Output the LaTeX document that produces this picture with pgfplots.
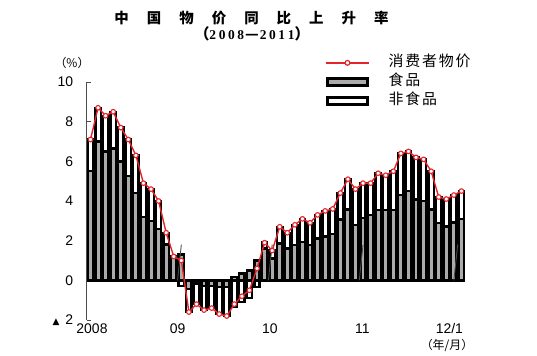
\documentclass[border=0pt]{standalone}
\usepackage{pgfplots}
\pgfplotsset{compat=1.18}
\usepackage{pgfplotstable}
\usepackage{fontspec}
\setmainfont{Liberation Sans}
\newfontfamily\cjk{Noto Sans CJK SC}
\newfontfamily\cjkwide[LetterSpace=12]{Noto Sans CJK SC}
\newfontfamily\sym{DejaVu Sans}
\newfontfamily\serifnum{Liberation Serif}
\definecolor{cpired}{HTML}{E3262B}
\definecolor{foodgray}{HTML}{ABABAB}
\newcommand{\dg}[1]{#1\hspace{2.6bp}}

\pgfplotstableread{
x cpi food white
0 7.1 5.5 7.1
1 8.7 7.0 8.7
2 8.3 6.5 8.3
3 8.5 6.65 8.5
4 7.7 6.0 7.7
5 7.1 5.25 7.1
6 6.3 4.4 6.3
7 4.9 3.2 4.9
8 4.6 3.0 4.6
9 4.0 2.6 4.0
10 2.4 1.8 2.4
11 1.2 1.2 1.2
12 1.0 1.3 -0.3
13 -1.6 -0.45 -1.6
14 -1.2 -0.15 -1.2
15 -1.5 -0.3 -1.5
16 -1.4 -0.3 -1.4
17 -1.7 -0.35 -1.7
18 -1.8 -0.35 -1.8
19 -1.2 0.17 -1.35
20 -0.8 0.35 -1.1
21 -0.5 0.5 -0.9
22 0.6 1.0 -0.35
23 1.9 1.6 1.9
24 1.5 1.1 1.5
25 2.7 1.85 2.7
26 2.4 1.6 2.4
27 2.8 1.77 2.8
28 3.1 1.93 3.1
29 2.9 1.77 2.9
30 3.3 2.1 3.3
31 3.5 2.22 3.5
32 3.6 2.35 3.6
33 4.4 3.06 4.4
34 5.1 3.57 5.1
35 4.6 2.8 4.6
36 4.9 3.15 4.9
37 4.9 3.3 4.9
38 5.4 3.54 5.4
39 5.3 3.54 5.3
40 5.5 3.54 5.5
41 6.4 4.29 6.4
42 6.5 4.49 6.5
43 6.2 4.07 6.2
44 6.1 4.0 6.1
45 5.5 3.57 5.5
46 4.2 2.88 4.2
47 4.1 2.72 4.1
48 4.3 2.92 4.3
49 4.5 3.1 4.5
}\data

\begin{document}
\begin{tikzpicture}
\useasboundingbox (0,0) rectangle (537bp,356bp);
\begin{axis}[
  at={(86.7bp,36bp)}, anchor=south west,
  scale only axis, width=380.8bp, height=238bp,
  xmin=-0.5, xmax=49.8, ymin=-2, ymax=10,
  axis lines*=left,
  x axis line style={draw=none},
  y axis line style={draw=black!70, line width=0.9bp},
  ytick={-2,0,2,4,6,8,10},
  yticklabels={{{\sym\fontsize{9}{9}\selectfont ▲}\hspace{6bp}2},0,2,4,6,8,10},
  yticklabel style={xshift=-10bp},
  xtick={0.2,11.5,23.7,35.9,47.4},
  xticklabels={2008,09,10,11,12/1},
  xtick style={draw=none},
  ytick style={draw=black!70, line width=0.9bp},
  tick align=inside, major tick length=4bp,
  tick label style={font=\fontsize{14}{14}\selectfont},
  /pgf/number format/assume math mode=true,
  clip=false,
  legend cell align=left,
  legend style={at={(axis description cs:0.626,1.115)}, anchor=north west,
    draw=none, fill=none, inner sep=0pt, row sep=3bp,
    font=\cjkwide\fontsize{15}{15}\selectfont,
    nodes={text height=11bp, text depth=3bp, inner sep=1bp},
    /tikz/every odd column/.style={column sep=18bp}},
]
\addlegendimage{legend image code/.code={\draw[cpired,line width=1.4bp] (0bp,0bp) -- (43bp,0bp); \draw[cpired,fill=white,line width=1.2bp] (21.5bp,0bp) circle (2.4bp);}}
\addlegendentry{消费者物价}
\addlegendimage{legend image code/.code={\draw[black,line width=2.6bp,fill=foodgray] (1.3bp,-3.6bp) rectangle (41.7bp,3.6bp);}}
\addlegendentry{食品}
\addlegendimage{legend image code/.code={\draw[black,line width=2.6bp,fill=white] (1.3bp,-3.6bp) rectangle (41.7bp,3.6bp);}}
\addlegendentry{非食品}

\addplot[forget plot, ybar, bar width=5.3bp, bar shift=0pt, draw=black, line width=2.4bp, fill=white] table[x=x,y=white]{\data};
\addplot[forget plot, ybar, bar width=5.3bp, bar shift=0pt, draw=black, line width=2.4bp, fill=foodgray] table[x=x,y=food]{\data};
\addplot[forget plot, cpired, line width=1.4bp, mark=*, mark size=2.3bp, mark options={fill=white, draw=cpired, line width=1.1bp}] table[x=x,y=cpi]{\data};

\draw[black!70, line width=0.9bp] (axis cs:11.5,0) -- ++(0,-4bp);
\draw[black!70, line width=0.9bp] (axis cs:23.5,0) -- ++(0,-4bp);
\draw[black!70, line width=0.9bp] (axis cs:35.5,0) -- ++(0,-4bp);
\draw[black!70, line width=0.9bp] (axis cs:48,0) -- ++(0,-4bp);
\end{axis}
\node at (251.5bp,338bp) {\cjk\bfseries\fontsize{14.5}{14.5}\selectfont 中\hspace{18bp}国\hspace{18bp}物\hspace{18bp}价\hspace{18bp}同\hspace{18bp}比\hspace{18bp}上\hspace{18bp}升\hspace{18bp}率};
\node at (252bp,322bp) {{\cjk\bfseries\fontsize{15}{15}\selectfont （}{\serifnum\bfseries\fontsize{13.5}{13.5}\selectfont \dg{2}\dg{0}\dg{0}8}{\cjk\bfseries\fontsize{15}{15}\selectfont \hspace{1bp}—\hspace{1bp}}{\serifnum\bfseries\fontsize{13.5}{13.5}\selectfont \dg{2}\dg{0}\dg{1}1}{\cjk\bfseries\fontsize{15}{15}\selectfont ）}};
\node at (72bp,293bp) {\cjk\fontsize{12}{12}\selectfont （\%）};
\node at (447bp,11bp) {\cjk\fontsize{12}{12}\selectfont （年/月）};
\end{tikzpicture}
\end{document}
